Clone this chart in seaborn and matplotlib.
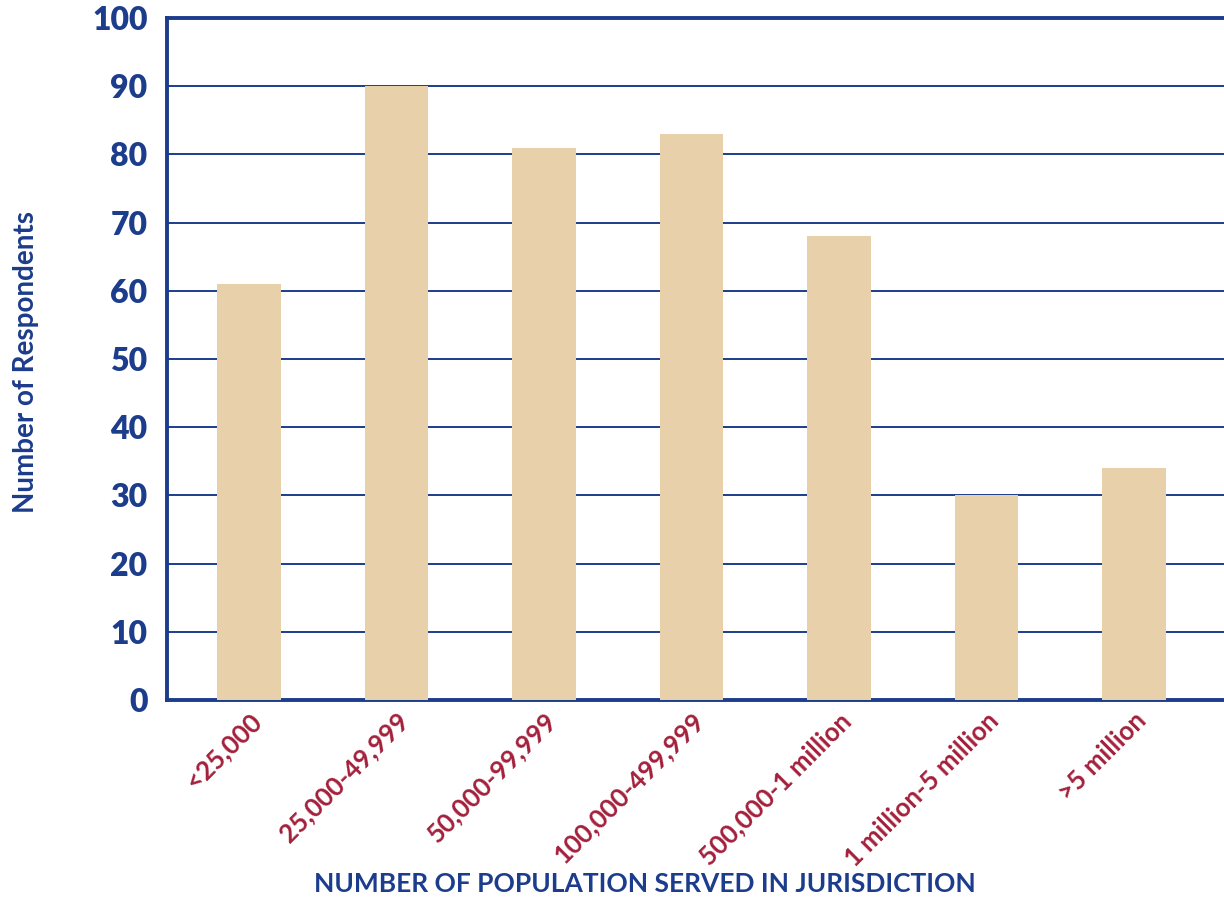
import matplotlib
matplotlib.use("Agg")
import matplotlib.pyplot as plt
import pandas as pd
import seaborn as sns

# population bands and respondent counts
categories = ["<25,000", "25,000-49,999", "50,000-99,999", "100,000-499,999",
              "500,000-1 million", "1 million-5 million", ">5 million"]
respondents = [61, 90, 81, 83, 68, 30, 34]
y_ticks = [0, 10, 20, 30, 40, 50, 60, 70, 80, 90, 100]

navy = "#1c3c8c"
crimson = "#a3203b"
tan = "#e8d1aa"

df = pd.DataFrame({"band": categories, "count": respondents})

sns.set_theme(style="white")
plt.rcParams["font.family"] = ["Lato", "DejaVu Sans"]

fig = plt.figure(figsize=(12.24, 9.05), dpi=100)
ax = fig.add_axes([0.1364, 0.2265, 0.8636, 0.7536])

sns.barplot(data=df, x="band", y="count", color=tan, width=0.43,
            saturation=1, linewidth=0, ax=ax, zorder=3)

ax.set_ylim(0, 100)
ax.set_xlim(-0.556, 6.61)
ax.set_yticks(y_ticks)
ax.set_yticklabels([str(t) for t in y_ticks], fontsize=23, fontweight="heavy", color=navy)
ax.yaxis.grid(True, color=navy, linewidth=1.4, zorder=1)
ax.set_axisbelow(True)
ax.tick_params(axis="y", length=0, pad=14)
ax.tick_params(axis="x", length=0, pad=6)

ax.set_xticks(range(len(categories)))
ax.set_xticklabels(categories, rotation=45, ha="right", rotation_mode="anchor",
                   fontsize=18.5, fontweight="bold", color=crimson)

for side in ["left", "top", "bottom"]:
    ax.spines[side].set_color(navy)
    ax.spines[side].set_linewidth(2.8)
ax.spines["right"].set_visible(False)

ax.set_xlabel("")
ax.set_ylabel("")
fig.text(0.527, 0.01, "NUMBER OF POPULATION SERVED IN JURISDICTION", ha="center",
         va="bottom", fontsize=19, fontweight="bold", color=navy)
fig.text(0.021, 0.6, "Number of Respondents", rotation=90, ha="center", va="center",
         fontsize=20, fontweight="bold", color=navy)

fig.savefig("out.png", dpi=100)
